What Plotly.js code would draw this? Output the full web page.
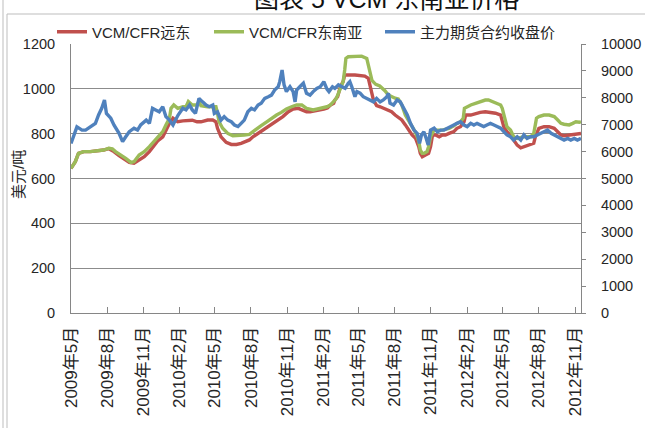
<!DOCTYPE html>
<html><head><meta charset="utf-8">
<script src="https://cdn.plot.ly/plotly-3.0.1.min.js"></script>
<style>html,body{margin:0;padding:0;background:#fff}#chart{width:645px;height:428px}</style>
</head><body><div id="chart"></div>
<script>
// ---- data ----
const seriesNames = ["VCM/CFR远东", "VCM/CFR东南亚", "主力期货合约收盘价"];

const farEastDates = ["2009-05-01","2009-05-12","2009-05-20","2009-06-02","2009-06-19","2009-07-06","2009-07-23","2009-08-05","2009-08-18","2009-08-31","2009-09-13","2009-09-26","2009-10-08","2009-10-21","2009-11-03","2009-11-16","2009-11-28","2009-12-07","2009-12-20","2009-12-28","2010-01-06","2010-01-15","2010-01-27","2010-02-09","2010-02-22","2010-03-05","2010-03-17","2010-03-27","2010-04-13","2010-04-26","2010-05-04","2010-05-08","2010-05-17","2010-05-30","2010-06-12","2010-06-25","2010-07-07","2010-07-20","2010-07-28","2010-08-06","2010-08-19","2010-09-01","2010-09-14","2010-09-26","2010-10-09","2010-10-21","2010-11-04","2010-11-16","2010-11-29","2010-12-12","2010-12-20","2010-12-29","2011-01-06","2011-01-19","2011-02-02","2011-02-11","2011-02-19","2011-02-27","2011-03-02","2011-03-09","2011-03-16","2011-03-23","2011-03-27","2011-04-22","2011-05-17","2011-05-26","2011-05-30","2011-06-04","2011-06-08","2011-06-16","2011-06-25","2011-07-03","2011-07-16","2011-07-24","2011-08-02","2011-08-11","2011-08-19","2011-08-28","2011-09-06","2011-09-14","2011-09-23","2011-10-01","2011-10-05","2011-10-10","2011-10-18","2011-10-26","2011-10-31","2011-11-05","2011-11-13","2011-11-22","2011-11-30","2011-12-08","2011-12-17","2011-12-29","2012-01-06","2012-01-15","2012-01-24","2012-01-28","2012-02-10","2012-02-22","2012-03-05","2012-03-18","2012-03-31","2012-04-13","2012-04-26","2012-04-30","2012-05-04","2012-05-12","2012-05-21","2012-05-29","2012-06-07","2012-06-16","2012-06-24","2012-07-11","2012-07-19","2012-07-23","2012-08-01","2012-08-14","2012-08-27","2012-09-09","2012-09-18","2012-09-26","2012-10-04","2012-10-17","2012-10-30","2012-11-12","2012-11-16"];
const farEastPrice = [645,675,712,720,720,723,727,733,720,702,687,672,668,683,697,720,749,767,786,816,846,869,853,857,860,860,853,853,861,861,853,824,786,761,752,752,757,764,772,786,801,816,831,846,861,876,898,910,913,906,898,898,900,906,910,915,928,935,950,965,1010,1032,1062,1062,1057,1047,1010,980,950,925,920,915,906,898,883,869,861,839,816,794,779,742,712,697,705,712,742,794,794,786,794,794,801,809,824,831,853,883,883,891,895,898,895,891,883,861,831,809,794,772,749,737,742,749,757,786,824,831,831,824,809,794,791,794,797,801,801];

const seAsiaDates = ["2009-05-01","2009-05-12","2009-05-20","2009-06-02","2009-06-19","2009-07-06","2009-07-23","2009-08-05","2009-08-14","2009-08-22","2009-09-05","2009-09-17","2009-09-30","2009-10-08","2009-10-21","2009-11-03","2009-11-16","2009-11-28","2009-12-07","2009-12-20","2009-12-28","2010-01-06","2010-01-10","2010-01-17","2010-01-27","2010-02-09","2010-02-17","2010-02-23","2010-03-05","2010-03-17","2010-03-22","2010-03-27","2010-04-13","2010-05-04","2010-05-08","2010-05-12","2010-05-21","2010-06-03","2010-06-16","2010-06-29","2010-07-15","2010-07-28","2010-08-06","2010-08-15","2010-08-27","2010-09-10","2010-09-22","2010-10-05","2010-10-17","2010-10-30","2010-11-12","2010-11-25","2010-12-08","2010-12-20","2011-01-06","2011-01-24","2011-02-10","2011-02-19","2011-02-27","2011-03-05","2011-03-10","2011-03-19","2011-03-23","2011-03-27","2011-03-30","2011-04-05","2011-04-22","2011-05-09","2011-05-22","2011-05-26","2011-05-30","2011-06-04","2011-06-07","2011-06-14","2011-06-24","2011-07-07","2011-07-16","2011-07-24","2011-08-02","2011-08-10","2011-08-19","2011-08-28","2011-09-06","2011-09-14","2011-09-23","2011-10-01","2011-10-05","2011-10-10","2011-10-14","2011-10-22","2011-10-26","2011-10-31","2011-11-09","2011-11-30","2011-12-17","2011-12-29","2012-01-06","2012-01-15","2012-01-22","2012-01-25","2012-02-01","2012-02-10","2012-02-22","2012-03-05","2012-03-18","2012-03-26","2012-04-04","2012-04-17","2012-04-26","2012-04-30","2012-05-04","2012-05-08","2012-05-12","2012-05-21","2012-05-29","2012-06-07","2012-06-24","2012-07-11","2012-07-19","2012-07-23","2012-07-26","2012-08-01","2012-08-14","2012-08-27","2012-09-09","2012-09-18","2012-09-26","2012-10-04","2012-10-17","2012-10-26","2012-11-03","2012-11-12","2012-11-16"];
const seAsiaPrice = [645,675,712,720,720,723,727,735,732,720,705,690,672,675,705,720,742,767,786,809,839,869,913,928,913,920,920,943,928,928,943,925,920,920,891,853,824,801,791,791,794,797,809,824,836,853,869,883,895,910,920,928,928,913,906,913,920,928,943,955,975,1010,1032,1084,1136,1143,1143,1146,1136,1106,1069,1039,1032,1020,1013,992,972,965,958,955,928,883,855,826,805,766,727,712,712,720,742,786,816,816,824,835,846,853,869,913,920,928,935,943,950,950,943,935,928,913,883,853,831,816,786,779,786,786,801,839,869,876,883,883,876,861,846,842,839,846,853,851,853];

const futuresDates = ["2009-05-01","2009-05-16","2009-05-29","2009-06-07","2009-06-19","2009-07-02","2009-07-10","2009-07-18","2009-07-25","2009-07-30","2009-08-10","2009-08-18","2009-08-31","2009-09-09","2009-09-17","2009-09-26","2009-10-08","2009-10-17","2009-10-25","2009-11-08","2009-11-16","2009-11-24","2009-12-02","2009-12-11","2009-12-20","2009-12-28","2010-01-06","2010-01-15","2010-01-19","2010-01-28","2010-02-09","2010-02-17","2010-02-26","2010-03-05","2010-03-13","2010-03-22","2010-03-31","2010-04-09","2010-04-17","2010-04-26","2010-04-30","2010-05-08","2010-05-17","2010-05-25","2010-06-03","2010-06-12","2010-06-20","2010-06-29","2010-07-07","2010-07-15","2010-07-24","2010-08-02","2010-08-10","2010-08-19","2010-08-27","2010-09-05","2010-09-14","2010-09-22","2010-09-30","2010-10-09","2010-10-13","2010-10-19","2010-10-24","2010-10-30","2010-11-08","2010-11-16","2010-11-21","2010-11-25","2010-12-03","2010-12-12","2010-12-20","2010-12-29","2011-01-06","2011-01-15","2011-01-24","2011-02-02","2011-02-10","2011-02-15","2011-02-24","2011-03-02","2011-03-11","2011-03-19","2011-03-28","2011-04-05","2011-04-09","2011-04-14","2011-04-22","2011-04-27","2011-05-05","2011-05-13","2011-05-22","2011-05-30","2011-06-08","2011-06-16","2011-06-25","2011-07-03","2011-07-12","2011-07-16","2011-07-20","2011-07-29","2011-08-07","2011-08-15","2011-08-24","2011-09-02","2011-09-10","2011-09-19","2011-09-27","2011-10-03","2011-10-08","2011-10-14","2011-10-20","2011-10-25","2011-10-31","2011-11-09","2011-11-17","2011-11-26","2011-12-04","2011-12-12","2011-12-21","2011-12-29","2012-01-06","2012-01-15","2012-01-24","2012-02-01","2012-02-10","2012-02-18","2012-02-26","2012-03-05","2012-03-14","2012-03-22","2012-03-31","2012-04-09","2012-04-17","2012-04-26","2012-05-04","2012-05-12","2012-05-21","2012-05-29","2012-06-07","2012-06-16","2012-06-24","2012-07-02","2012-07-11","2012-07-19","2012-07-28","2012-08-06","2012-08-14","2012-08-23","2012-09-01","2012-09-09","2012-09-18","2012-09-26","2012-10-04","2012-10-13","2012-10-21","2012-10-30","2012-11-07","2012-11-16"];
const futuresPrice = [6300,6920,6800,6800,6920,7050,7360,7610,7920,7420,7240,6990,6680,6370,6550,6740,6870,6800,6990,7170,7050,7610,7550,7480,7670,7300,7170,6990,7110,7360,7610,7550,7730,7550,7420,7980,7850,7730,7670,7730,7420,7480,7170,7300,7170,7110,6990,6930,7050,7170,7480,7610,7550,7730,7800,7980,8040,8100,8290,8410,8600,9030,8480,8230,8410,8230,7850,8290,8410,8540,8170,8100,8230,8350,8410,8600,8320,8230,8410,8350,8480,8410,8350,8540,8600,8410,8040,8230,8170,8040,7980,7920,7850,7980,7850,7920,8040,8170,7800,7730,7920,7850,7610,7360,7050,6800,6680,6310,6620,6740,6490,6250,6800,6870,6740,6800,6800,6870,6930,6990,7050,7110,6990,6930,7050,6990,7050,6990,6930,6990,7050,6990,6930,6870,6740,6620,6550,6430,6550,6430,6620,6490,6550,6550,6620,6680,6740,6800,6680,6620,6550,6490,6430,6490,6430,6490,6430,6490];

const tickDates = ["2009-05-01","2009-08-01","2009-11-01","2010-02-01","2010-05-01","2010-08-01","2010-11-01","2011-02-01","2011-05-01","2011-08-01","2011-11-01","2012-02-01","2012-05-01","2012-08-01","2012-11-01"];
const tickLabels = ["2009年5月","2009年8月","2009年11月","2010年2月","2010年5月","2010年8月","2010年11月","2011年2月","2011年5月","2011年8月","2011年11月","2012年2月","2012年5月","2012年8月","2012年11月"];
const yLeftTitle = "美元/吨";
const chartTitle = "图表 5 VCM 东南亚价格";

// ---- drawing ----
const FONT = "Liberation Sans, Noto Sans CJK SC, sans-serif";
const traces = [
  {x: farEastDates, y: farEastPrice, name: seriesNames[0], type: "scatter", mode: "lines", yaxis: "y",
   legend: "legend", line: {color: "#C0504D", width: 3.4}},
  {x: seAsiaDates, y: seAsiaPrice, name: seriesNames[1], type: "scatter", mode: "lines", yaxis: "y",
   legend: "legend2", line: {color: "#9BBB59", width: 3.4}},
  {x: futuresDates, y: futuresPrice, name: seriesNames[2], type: "scatter", mode: "lines", yaxis: "y2",
   legend: "legend3", line: {color: "#4F81BD", width: 3.4}}
];

const px = v => (v - 71) / 510;      // pixel x -> paper
const py = v => (313 - v) / 269;     // pixel y -> paper

const legendBase = (left) => ({orientation: "h", x: px(left), xanchor: "left", y: py(32), yanchor: "middle",
  font: {family: FONT, size: 15, color: "#262626"}, bgcolor: "rgba(0,0,0,0)"});

const layout = {
  width: 645, height: 428,
  margin: {l: 71, r: 64, t: 44, b: 115},
  paper_bgcolor: "#fff", plot_bgcolor: "#fff",
  font: {family: FONT, size: 14, color: "#262626"},
  showlegend: true,
  legend: legendBase(52),
  legend2: legendBase(209),
  legend3: legendBase(380),
  xaxis: {type: "date", range: ["2009-05-01", "2012-11-16"],
          tickmode: "array", tickvals: tickDates, ticktext: tickLabels, tickangle: -90,
          ticks: "inside", ticklen: 6, tickcolor: "#868686",
          showline: true, linecolor: "#868686", linewidth: 1, showgrid: false, zeroline: false,
          tickfont: {family: FONT, size: 17, color: "#262626"}, ticklabelstandoff: 6},
  yaxis: {range: [0, 1200], dtick: 200, showgrid: true, gridcolor: "#8c8c8c", gridwidth: 1,
          showline: true, linecolor: "#868686", ticks: "", zeroline: false, tickformat: "d",
          tickfont: {family: FONT, size: 14.5, color: "#262626"}, ticklabelstandoff: 12},
  yaxis2: {range: [0, 10000], dtick: 1000, overlaying: "y", side: "right", showgrid: false,
           showline: true, linecolor: "#868686", ticks: "outside", ticklen: 4, tickcolor: "#868686",
           zeroline: false, tickformat: "d", separatethousands: false,
           tickfont: {family: FONT, size: 14.5, color: "#262626"}, ticklabelstandoff: 12},
  annotations: [
    {text: chartTitle, xref: "paper", yref: "paper", x: px(386), y: py(-1), xanchor: "center", yanchor: "middle",
     showarrow: false, font: {family: FONT, size: 25, color: "#111"}},
    {text: yLeftTitle, xref: "paper", yref: "paper", x: px(18), y: py(175), xanchor: "center", yanchor: "middle",
     textangle: -90, showarrow: false, font: {family: FONT, size: 15, color: "#262626"}}
  ],
  shapes: [
    {type: "line", xref: "paper", yref: "paper", x0: px(3), x1: px(3), y0: py(0), y1: py(428), line: {color: "#bdbdbd", width: 1}},
    {type: "line", xref: "paper", yref: "paper", x0: px(7), x1: px(7), y0: py(14), y1: py(428), line: {color: "#bdbdbd", width: 1}},
    {type: "line", xref: "paper", yref: "paper", x0: px(7), x1: px(645), y0: py(14), y1: py(14), line: {color: "#bdbdbd", width: 1}}
  ]
};

Plotly.newPlot("chart", traces, layout, {displayModeBar: false, staticPlot: true});
</script></body></html>
